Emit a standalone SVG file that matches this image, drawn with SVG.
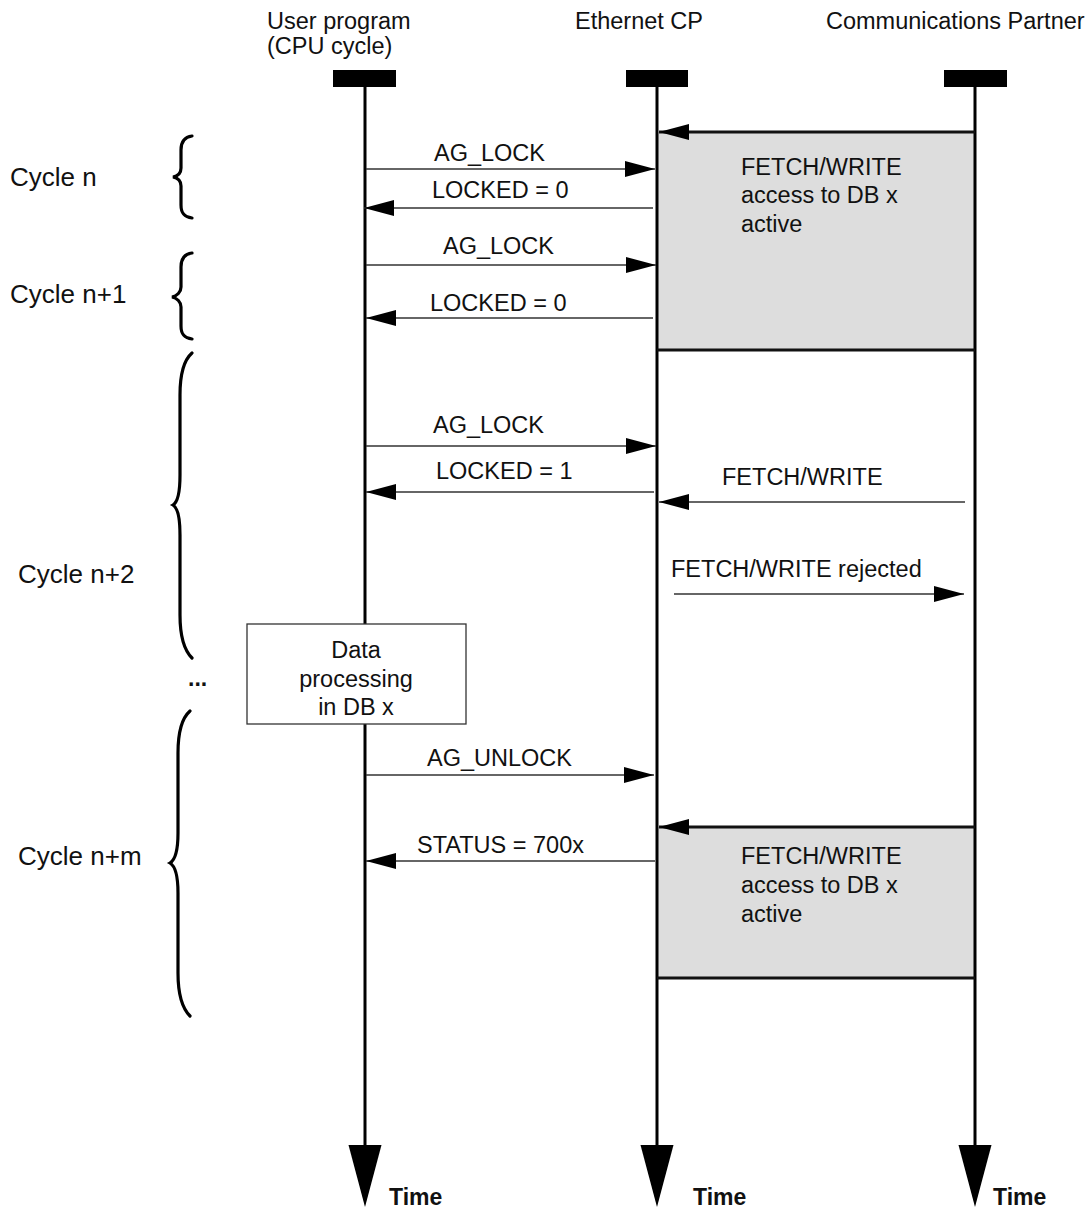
<svg xmlns="http://www.w3.org/2000/svg" width="1092" height="1210" viewBox="0 0 1092 1210">
<style>
.t{font-family:"Liberation Sans",Arial,sans-serif;font-size:23.5px;fill:#111}
.c{font-size:26px}
.b{font-weight:bold;font-size:23px}
.mid{text-anchor:middle}
.life{stroke:#000;stroke-width:3;fill:none}
.msg{stroke:#333;stroke-width:1.5;fill:none}
.edge{stroke:#111;stroke-width:2.8;fill:none}
.brace{stroke:#000;stroke-width:3.2;fill:none;stroke-linecap:round}
.gray{fill:#dddddd}
</style>
<defs>
<marker id="ah" markerUnits="userSpaceOnUse" markerWidth="30" markerHeight="16" refX="30" refY="8" orient="auto">
<path d="M0,0 L30,8 L0,16 z" fill="#000"/>
</marker>
<marker id="big" markerUnits="userSpaceOnUse" markerWidth="63" markerHeight="34" refX="1" refY="17" orient="auto">
<path d="M0,0.5 L62,17 L0,33.5 z" fill="#000"/>
</marker>
</defs>

<g id="activity1"><rect class="gray" x="657" y="132" width="318" height="218"/></g>
<g id="activity2"><rect class="gray" x="657" y="827" width="318" height="151"/></g>

<g id="user-program">
<text class="t" x="267" y="29">User program</text>
<text class="t" x="267" y="54">(CPU cycle)</text>
<rect x="333" y="70" width="63" height="17" fill="#000"/>
<line class="life" x1="365" y1="87" x2="365" y2="1146" marker-end="url(#big)"/>
<text class="t b" x="389" y="1205">Time</text>
</g>
<g id="ethernet-cp">
<text class="t" x="575" y="29">Ethernet CP</text>
<rect x="626" y="70" width="62" height="17" fill="#000"/>
<line class="life" x1="657" y1="87" x2="657" y2="1146" marker-end="url(#big)"/>
<text class="t b" x="693" y="1205">Time</text>
</g>
<g id="partner">
<text class="t" x="826" y="29">Communications Partner</text>
<rect x="944" y="70" width="63" height="17" fill="#000"/>
<line class="life" x1="975" y1="87" x2="975" y2="1146" marker-end="url(#big)"/>
<text class="t b" x="993" y="1205">Time</text>
</g>

<g id="cycles">
<text class="t c" x="10" y="186">Cycle n</text>
<path class="brace" d="M192,136 C184,137 181,142 181,150 L181,168 C181,173 178,176 173,177 C178,178 181,181 181,186 L181,205 C181,213 184,217 192,218"/>
<text class="t c" x="10" y="303">Cycle n+1</text>
<path class="brace" d="M192,253 C184,254 181,259 181,267 L181,287 C181,292 177,296 172,297 C177,298 181,302 181,307 L181,326 C181,334 184,338 192,339"/>
<text class="t c" x="18" y="583">Cycle n+2</text>
<path class="brace" d="M192,353 C184,360 180,375 180,395 L180,475 C180,493 178,502 173,505 C178,508 180,517 180,535 L180,615 C180,635 184,650 192,658"/>
<text class="t b" x="188" y="686">...</text>
<text class="t c" x="18" y="865">Cycle n+m</text>
<path class="brace" d="M190,711 C182,718 178,733 178,753 L178,833 C178,851 175,860 170,863 C175,866 178,875 178,893 L178,973 C178,993 182,1008 190,1016"/>
</g>

<g id="connectors">
<line class="msg" x1="366" y1="169" x2="655" y2="169" marker-end="url(#ah)"/>
<line class="msg" x1="653" y1="208" x2="364" y2="208" marker-end="url(#ah)"/>
<line class="msg" x1="366" y1="265" x2="656" y2="265" marker-end="url(#ah)"/>
<line class="msg" x1="653" y1="318" x2="366" y2="318" marker-end="url(#ah)"/>
<line class="msg" x1="366" y1="446" x2="656" y2="446" marker-end="url(#ah)"/>
<line class="msg" x1="654" y1="492" x2="366" y2="492" marker-end="url(#ah)"/>
<line class="msg" x1="965" y1="502" x2="659" y2="502" marker-end="url(#ah)"/>
<line class="msg" x1="674" y1="594" x2="964" y2="594" marker-end="url(#ah)"/>
<line class="msg" x1="366" y1="775" x2="654" y2="775" marker-end="url(#ah)"/>
<line class="msg" x1="655" y1="861" x2="366" y2="861" marker-end="url(#ah)"/>
<line class="edge" x1="975" y1="132" x2="659" y2="132" marker-end="url(#ah)"/>
<line class="edge" x1="657" y1="350" x2="975" y2="350"/>
<line class="edge" x1="975" y1="827" x2="659" y2="827" marker-end="url(#ah)"/>
<line class="edge" x1="657" y1="978" x2="975" y2="978"/>
</g>

<g id="labels">
<text class="t" x="434" y="161">AG_LOCK</text>
<text class="t" x="432" y="198">LOCKED = 0</text>
<text class="t" x="443" y="254">AG_LOCK</text>
<text class="t" x="430" y="311">LOCKED = 0</text>
<text class="t" x="433" y="433">AG_LOCK</text>
<text class="t" x="436" y="479">LOCKED = 1</text>
<text class="t" x="722" y="485">FETCH/WRITE</text>
<text class="t" x="671" y="577">FETCH/WRITE rejected</text>
<text class="t" x="427" y="766">AG_UNLOCK</text>
<text class="t" x="417" y="853">STATUS = 700x</text>
</g>

<g id="activity1-text">
<text class="t" x="741" y="175">FETCH/WRITE</text>
<text class="t" x="741" y="203">access to DB x</text>
<text class="t" x="741" y="232">active</text>
</g>
<g id="activity2-text">
<text class="t" x="741" y="864">FETCH/WRITE</text>
<text class="t" x="741" y="893">access to DB x</text>
<text class="t" x="741" y="922">active</text>
</g>

<g id="data-processing">
<rect x="247" y="624" width="219" height="100" fill="#fff" stroke="#333" stroke-width="1.3"/>
<text class="t mid" x="356" y="658">Data</text>
<text class="t mid" x="356" y="687">processing</text>
<text class="t mid" x="356" y="715">in DB x</text>
</g>
</svg>
